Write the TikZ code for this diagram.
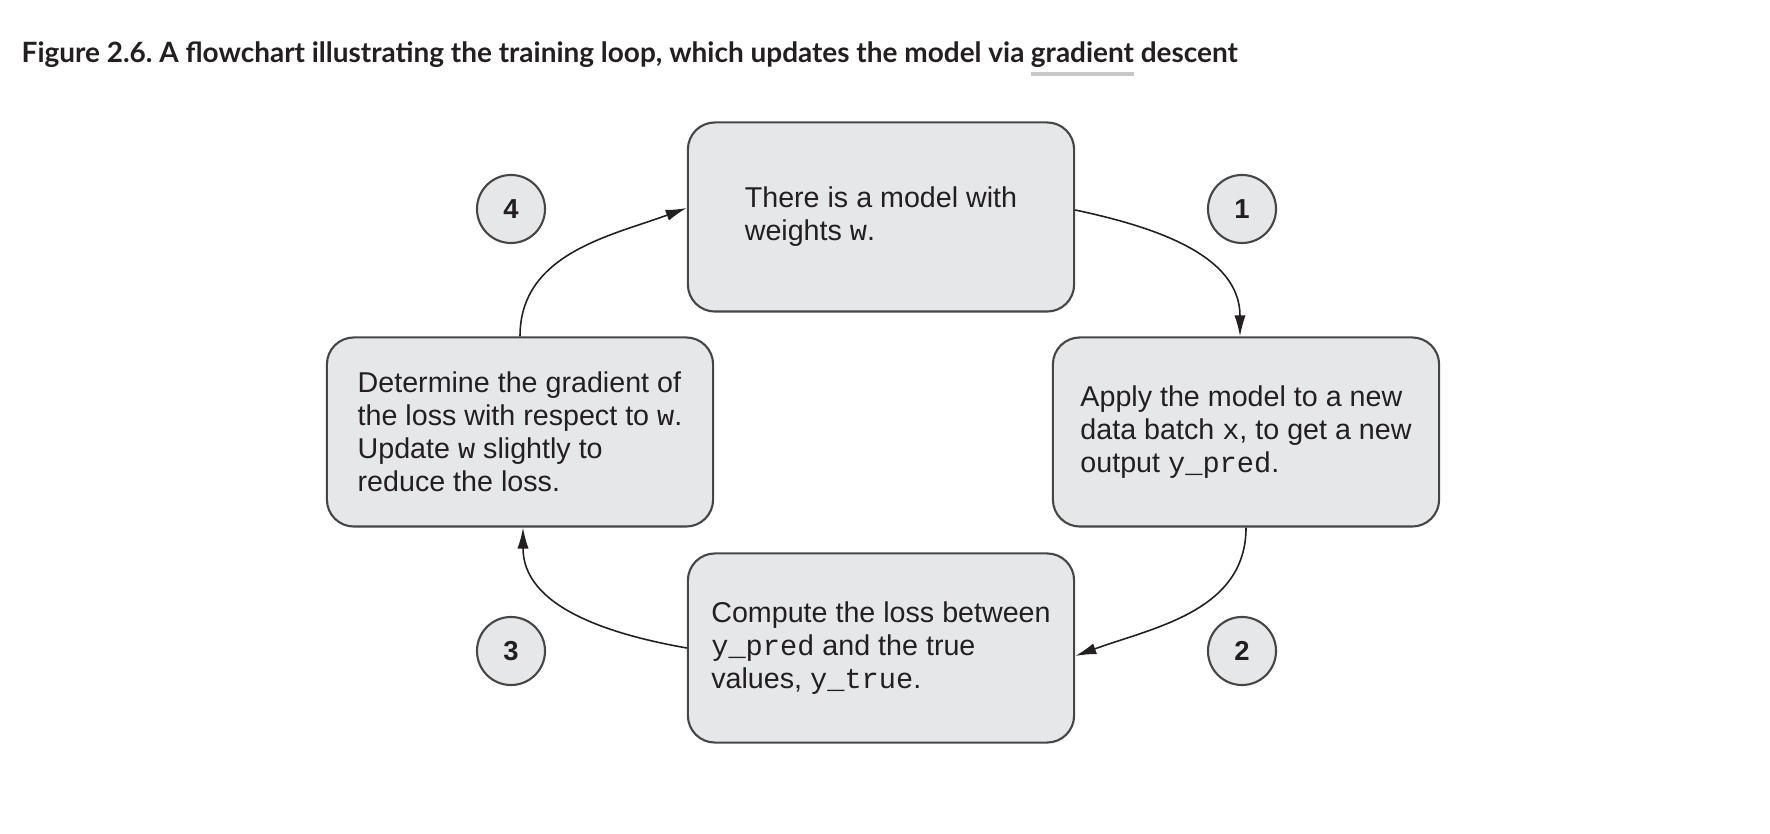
\documentclass[tikz,border=0pt]{standalone}
\usepackage{fontspec}
\setmainfont{Liberation Sans}
\setmonofont{Liberation Mono}
\newfontfamily\titlefont{Lato}
\usepackage{tikz}
\usetikzlibrary{positioning,arrows.meta}
\definecolor{BoxGray}{RGB}{230,231,233}
\definecolor{EdgeGray}{RGB}{70,70,70}
\definecolor{InkBlack}{RGB}{35,31,32}
\definecolor{BarGray}{RGB}{200,200,200}
\frenchspacing
\newcommand{\glossword}[1]{\setbox0\hbox{#1}\rlap{\textcolor{BarGray}{\rule[-3.6pt]{\wd0}{1pt}}}\box0\relax}
\tikzset{
  box/.style={draw=EdgeGray,fill=BoxGray,line width=0.6pt,rounded corners=0.27cm,
    minimum width=3.86cm,minimum height=1.89cm,align=left,text=InkBlack,
    font=\fontsize{8.15}{9.4}\selectfont},
  badge/.style={circle,draw=EdgeGray,fill=BoxGray,line width=0.6pt,minimum size=0.68cm,
    inner sep=0pt,text=InkBlack,font=\fontsize{7.8}{8}\selectfont\bfseries},
  flow/.style={draw=InkBlack,line width=0.45pt,-{Latex[length=6pt,width=3.2pt]}},
}

\begin{document}
\begin{tikzpicture}[x=0.01cm,y=-0.01cm]
\useasboundingbox (0,0) rectangle (1770,834);
\node[anchor=base west,inner sep=0pt,text=InkBlack,
  font=\titlefont\fontsize{7.95}{9}\selectfont\bfseries] (title) at (21,63)
  {Figure 2.6. A flowchart illustrating the training loop, which updates the model via \glossword{gradient} descent};
\node[box] (model) at (881,217) {There is a model with\\weights \texttt{w}.};
\node[box] (apply) at (1246,432) {Apply the model to a new\\data batch \texttt{x}, to get a new\\output \texttt{y\_pred}.};
\node[box] (loss) at (881,648) {Compute the loss between\\\texttt{y\_pred} and the true\\values, \texttt{y\_true}.};
\node[box] (update) at (520,432) {Determine the gradient of\\the loss with respect to \texttt{w}.\\Update \texttt{w} slightly to\\reduce the loss.};
\node[badge] (n1) at (1242,209) {1};
\node[badge] (n2) at (1242,651) {2};
\node[badge] (n3) at (511,651) {3};
\node[badge] (n4) at (511,209) {4};
\draw[flow] ([yshift=0.07cm]model.east) to[out=-12,in=90] ([xshift=-0.06cm]apply.north);
\draw[flow] (apply.south) to[out=-90,in=20] ([yshift=-0.08cm]loss.east);
\draw[flow] (loss.west) to[out=170,in=-90] ([xshift=0.03cm]update.south);
\draw[flow] (update.north) to[out=90,in=200] ([yshift=0.09cm]model.west);
\end{tikzpicture}
\end{document}
